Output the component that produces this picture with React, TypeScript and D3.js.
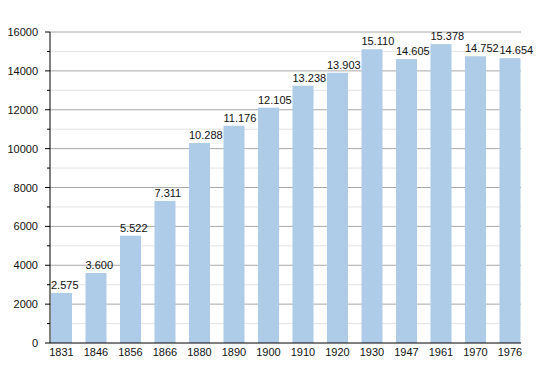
import React from "react";
import * as d3 from "d3";

const years = ["1831","1846","1856","1866","1880","1890","1900","1910","1920","1930","1947","1961","1970","1976"];
const population = [2575,3600,5522,7311,10288,11176,12105,13238,13903,15110,14605,15378,14752,14654];
const majorTicks = [0,2000,4000,6000,8000,10000,12000,14000,16000];
const minorTicks = [1000,3000,5000,7000,9000,11000,13000,15000];

const W = 550, H = 373;
const left = 50, right = 521, top = 32, bottom = 343;

const fmt = d3.formatLocale({ decimal: ",", thousands: ".", grouping: [3], currency: ["", ""] }).format(",d");

export default function App() {
  const x = d3.scaleBand<string>().domain(years).range([51, 520.5]).paddingInner(0.391).paddingOuter(0);
  const y = d3.scaleLinear().domain([0, 16000]).range([bottom, top]);
  const font = "Liberation Sans, Arial, sans-serif";
  return (
    <svg width={W} height={H} style={{ position: "absolute", left: 0, top: 0, background: "#fff" }}>
      <rect width={W} height={H} fill="#fff" />
      {minorTicks.map(t => (
        <g key={"mi" + t}>
          <line x1={left} x2={right} y1={y(t)} y2={y(t)} stroke="#e3e3e3" strokeWidth={1} />
          <line x1={left - 3} x2={left} y1={y(t)} y2={y(t)} stroke="#000" strokeWidth={1} />
        </g>
      ))}
      {majorTicks.map(t => (
        <g key={"ma" + t}>
          {t > 0 && <line x1={left} x2={right} y1={y(t)} y2={y(t)} stroke="#a8a8a8" strokeWidth={1} />}
          <line x1={left - 5} x2={left} y1={y(t)} y2={y(t)} stroke="#000" strokeWidth={1} />
          <text x={38} y={y(t) + 4} textAnchor="end" fontFamily={font} fontSize={11} fill="#111">{t}</text>
        </g>
      ))}
      {years.map((yr, i) => (
        <g key={yr}>
          <rect x={x(yr)} y={y(population[i])} width={x.bandwidth()} height={bottom - y(population[i])} fill="#aecbe7" />
          <text x={x(yr)} y={y(population[i]) - 4} fontFamily={font} fontSize={11} fill="#111">{fmt(population[i])}</text>
          <text x={(x(yr) as number) + x.bandwidth() / 2} y={356} textAnchor="middle" fontFamily={font} fontSize={11} fill="#111">{yr}</text>
        </g>
      ))}
      <line x1={left} x2={left} y1={top} y2={bottom} stroke="#000" strokeWidth={1} />
      <line x1={left} x2={right} y1={bottom} y2={bottom} stroke="#000" strokeWidth={1} />
    </svg>
  );
}
